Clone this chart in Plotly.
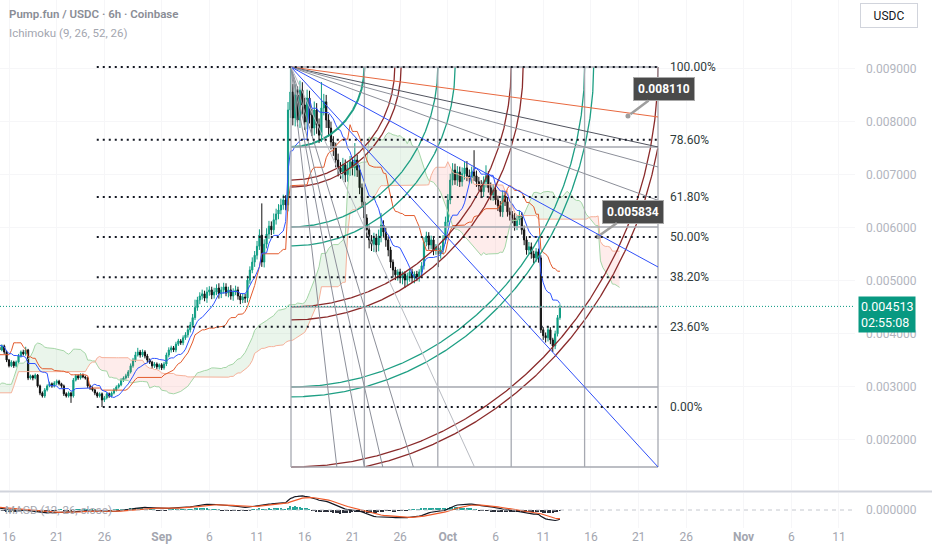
import numpy as np
import pandas as pd
import plotly.graph_objects as go

# prices in millionths of USDC (4513 -> 0.004513), 6h bars
# bars before the visible window, only used to warm up Ichimoku / MACD
PRE_CLOSE = [3350, 3300, 3380, 3320, 3250, 3300, 3220, 3180, 3200, 3120, 3060, 3100,
             3150, 3080, 3020, 2980, 3040, 2960, 2900, 2950, 2880, 2820, 2860, 2780,
             2720, 2760, 2680, 2620, 2660, 2580, 2520, 2560, 2480, 2430, 2500, 2440,
             2380, 2420, 2350, 2260, 2420, 2560, 2680, 2620, 2780, 2900, 2860, 3000,
             3120, 3060, 3200, 3300, 3260, 3420, 3380, 3500, 3200, 2980, 2900, 3050,
             3400, 3750, 4000, 4300, 4150, 4050, 3950, 4000, 3880, 3950, 3820, 3900,
             3780, 3850, 3720, 3800, 3880, 3760, 3820, 3740]
FIRST_OPEN = 3400

# visible bars, Aug 15 00:00 -> Oct 12 18:00
CLOSE = [3690, 3765, 3650, 3500, 3390, 3460, 3390, 3460, 3575, 3650,
         3615, 3690, 3160, 3200, 3160, 3215, 3010, 2875, 2820, 2935,
         3010, 3050, 3010, 3065, 3100, 3050, 3010, 2860, 2820, 2875,
         2820, 3120, 3200, 3160, 3215, 3180, 3160, 3010, 2970, 2935,
         2875, 2820, 2860, 2745, 2785, 2860, 2820, 2875, 2935, 2990,
         3030, 3120, 3160, 3200, 3275, 3390, 3500, 3595, 3650, 3595,
         3650, 3575, 3500, 3460, 3390, 3425, 3370, 3410, 3350, 3425,
         3595, 3690, 3730, 3690, 3800, 3860, 3825, 3920, 3975, 4070,
         4160, 4300, 4490, 4635, 4710, 4750, 4670, 4785, 4825, 4730,
         4785, 4860, 4750, 4825, 4880, 4765, 4825, 4710, 4785, 4825,
         4710, 4635, 4690, 4670, 5010, 5200, 5350, 5480, 5650, 5860,
         5350, 5690, 5880, 6030, 5960, 6150, 6260, 6335, 6430, 6525,
         6430, 8225, 8565, 8075, 8510, 8035, 8600, 8320, 8000, 8450,
         8130, 7885, 8225, 7945, 7750, 8263, 8380, 8036, 7885, 7620,
         7507, 7280, 7130, 7055, 7190, 7000, 7130, 7245, 7130, 7280,
         7090, 6755, 6490, 6185, 5960, 5770, 5690, 5805, 5675, 5845,
         6050, 5920, 5770, 5580, 5350, 5200, 5110, 5165, 5050, 5125,
         5010, 5090, 5165, 5050, 5125, 5070, 5165, 5280, 5730, 5845,
         5675, 5770, 5580, 5620, 5505, 5580, 5770, 6110, 6525, 6900,
         7090, 6900, 7055, 6870, 7020, 7130, 6980, 6945, 7055, 6980,
         6870, 6790, 6680, 6870, 6980, 6755, 6620, 6715, 6525, 6415,
         6300, 6605, 6490, 6300, 6245, 6185, 6035, 6150, 6225, 5960,
         5770, 5580, 5640, 5505, 5430, 5545, 5430, 4070, 3960, 3920,
         4070, 3880, 3765, 3995, 4300, 4513]
WICK_UP = [40, 30, 25, 30, 20, 35, 25, 30, 40, 30, 45, 60, 20, 25, 20, 30, 20, 25, 30, 35,
           30, 40, 25, 35, 30, 25, 20, 25, 30, 30, 25, 40, 30, 25, 35, 30, 25, 20, 25, 30,
           20, 25, 30, 25, 35, 30, 25, 30, 35, 30, 30, 35, 30, 40, 35, 45, 40, 60, 80, 40,
           50, 35, 40, 30, 25, 35, 30, 25, 30, 40, 45, 50, 40, 35, 45, 40, 35, 45, 50, 40,
           60, 70, 150, 60, 70, 80, 60, 90, 70, 60, 80, 70, 90, 60, 80, 70, 60, 90, 70, 80,
           60, 50, 70, 60, 80, 70, 90, 80, 100, 110, 600, 90, 110, 100, 90, 120, 100, 110, 120, 100,
           90, 150, 470, 150, 200, 160, 180, 150, 140, 160, 140, 120, 160, 130, 120, 490, 150, 130, 110, 120,
           110, 100, 120, 110, 130, 100, 120, 110, 90, 320, 100, 90, 80, 90, 70, 80, 90, 100, 80, 120,
           230, 90, 80, 70, 60, 50, 60, 50, 60, 50, 50, 60, 50, 60, 50, 60, 50, 70, 90, 80,
           70, 80, 60, 70, 60, 80, 90, 100, 110, 120, 130, 120, 110, 100, 120, 110, 130, 120, 100, 410,
           100, 90, 110, 100, 200, 90, 100, 110, 90, 80, 90, 100, 80, 90, 80, 70, 90, 80, 100, 70,
           80, 70, 90, 80, 60, 70, 60, 50, 50, 60, 60, 50, 40, 60, 50, 40]
WICK_DN = [30, 25, 35, 40, 30, 25, 40, 30, 25, 30, 30, 35, 40, 30, 45, 25, 30, 40, 30, 35,
           30, 25, 35, 30, 40, 30, 35, 40, 30, 30, 130, 30, 25, 35, 30, 25, 30, 40, 35, 30,
           40, 35, 30, 134, 40, 30, 35, 30, 25, 30, 30, 25, 35, 30, 40, 30, 35, 40, 30, 50,
           40, 45, 50, 35, 60, 40, 45, 50, 40, 35, 40, 45, 50, 40, 45, 35, 40, 45, 40, 50,
           50, 40, 45, 60, 80, 70, 60, 90, 70, 80, 70, 60, 90, 80, 70, 60, 80, 70, 90, 60,
           70, 80, 60, 90, 80, 70, 60, 90, 80, 70, 90, 100, 80, 90, 100, 80, 90, 100, 80, 90,
           100, 120, 150, 140, 160, 120, 150, 180, 150, 140, 160, 150, 140, 170, 150, 130, 140, 150, 160, 140,
           150, 140, 160, 130, 150, 140, 130, 150, 140, 160, 130, 120, 110, 140, 150, 160, 130, 150, 140, 120,
           120, 110, 130, 120, 110, 140, 100, 110, 100, 120, 150, 100, 110, 90, 100, 80, 90, 80, 70, 80,
           90, 80, 100, 90, 250, 90, 80, 70, 90, 80, 100, 90, 110, 100, 90, 110, 100, 90, 110, 100,
           100, 90, 120, 100, 110, 90, 100, 110, 90, 100, 90, 100, 80, 90, 110, 100, 90, 80, 100, 90,
           100, 90, 80, 90, 100, 80, 90, 60, 80, 90, 70, 80, 114, 60, 50, 40]

START_DAY = -6.0   # days since Aug 1 of the first warm-up bar
BAR_DAYS = 0.25

TICK_DAYS = [15, 20, 25, 31, 36, 41, 46, 51, 56, 61, 66, 71, 76, 81, 86, 92, 97, 102]
TICK_TEXT = ["16", "21", "26", "<b>Sep</b>", "6", "11", "16", "21", "26", "<b>Oct</b>",
             "6", "11", "16", "21", "26", "<b>Nov</b>", "6", "11"]
PRICE_TICKS = [0.002, 0.003, 0.004, 0.005, 0.006, 0.007, 0.008, 0.009]

FIB_HIGH, FIB_LOW = 0.009038, 0.002611
FIB_LEVELS = [1.0, 0.786, 0.618, 0.5, 0.382, 0.236, 0.0]
FIB_LABELS = ["100.00%", "78.60%", "61.80%", "50.00%", "38.20%", "23.60%", "0.00%"]
FIB_X = (24.2, 83.03)

BOX_X = (44.56, 83.03)
BOX_Y = (0.001478, 0.009038)

LAST_PRICE = 0.004513
CALLOUTS = [(79.88, 0.008110, "0.008110", 36, -27), (76.74, 0.005834, "0.005834", 35, -25)]

FONT = "Roboto"

# ---------------------------------------------------------------------------
close = np.array(PRE_CLOSE + CLOSE, dtype=float) * 1e-6
npre = len(PRE_CLOSE)
opn = np.concatenate([[FIRST_OPEN * 1e-6], close[:-1]])
high = np.maximum(opn, close)
low = np.minimum(opn, close)
high[npre:] += np.array(WICK_UP) * 1e-6
low[npre:] -= np.array(WICK_DN) * 1e-6
t = START_DAY + BAR_DAYS * np.arange(len(close))

hs, ls = pd.Series(high), pd.Series(low)


def donchian(p):
    return ((hs.rolling(p).max() + ls.rolling(p).min()) / 2).values


tenkan = donchian(9)
kijun = donchian(26)
span_a = (tenkan + kijun) / 2
span_b = donchian(52)
t_lead = t + 25 * BAR_DAYS
ok = ~np.isnan(span_b)
ta, sa, sb = t_lead[ok], span_a[ok], span_b[ok]
top = np.fmax(sa, sb)

cs = pd.Series(close)
macd = (cs.ewm(span=12, adjust=False).mean() - cs.ewm(span=26, adjust=False).mean()).values
signal = pd.Series(macd).ewm(span=9, adjust=False).mean().values
hist = macd - signal

vis = slice(npre, None)

fig = go.Figure()

# Ichimoku cloud
fig.add_trace(go.Scatter(x=ta, y=sb, line=dict(width=0), hoverinfo="skip"))
fig.add_trace(go.Scatter(x=ta, y=top, fill="tonexty", fillcolor="rgba(67,160,71,0.11)",
                         line=dict(width=0), hoverinfo="skip"))
fig.add_trace(go.Scatter(x=ta, y=sa, line=dict(width=0), hoverinfo="skip"))
fig.add_trace(go.Scatter(x=ta, y=top, fill="tonexty", fillcolor="rgba(244,67,54,0.10)",
                         line=dict(width=0), hoverinfo="skip"))
fig.add_trace(go.Scatter(x=ta, y=sa, line=dict(color="#a5d6a7", width=1)))
fig.add_trace(go.Scatter(x=ta, y=sb, line=dict(color="#f6b19a", width=1)))
fig.add_trace(go.Scatter(x=t, y=kijun, line=dict(color="#e35b2d", width=1)))
fig.add_trace(go.Scatter(x=t, y=tenkan, line=dict(color="#2f54ff", width=1)))

fig.add_trace(go.Candlestick(
    x=t[vis], open=opn[vis], high=high[vis], low=low[vis], close=close[vis],
    increasing=dict(line=dict(color="#0f9d83", width=1), fillcolor="#0f9d83"),
    decreasing=dict(line=dict(color="#111111", width=1), fillcolor="#111111"),
    whiskerwidth=0))

# Gann square: arcs
x0, x1 = BOX_X
bot, tp = BOX_Y
bw, bh = (x1 - x0) / 5, (tp - bot) / 5
GREEN, DRED = "#1e9f84", "#8a2b2b"
arcs = [(1, GREEN), (2 ** 0.5, DRED), (1.5, DRED), (2, GREEN), (5 ** 0.5, GREEN),
        (3, DRED), (10 ** 0.5, DRED), (4, GREEN), (17 ** 0.5, GREEN), (5, DRED), (26 ** 0.5, DRED)]
th = np.linspace(0, np.pi / 2, 400)
for r, col in arcs:
    ax_ = x0 + r * bw * np.cos(th)
    ay_ = tp - r * bh * np.sin(th)
    inside = (ax_ <= x1 + 1e-9) & (ay_ >= bot - 1e-12)
    fig.add_trace(go.Scatter(x=np.where(inside, ax_, np.nan), y=np.where(inside, ay_, np.nan),
                             line=dict(color=col, width=2 if r == 1 else 1.3), hoverinfo="skip"))

shapes = []
# Gann grid
for k in range(6):
    shapes.append(dict(type="line", x0=x0 + k * bw, x1=x0 + k * bw, y0=bot, y1=tp,
                       line=dict(color="#a6a9b1", width=1.3), layer="above"))
    shapes.append(dict(type="line", x0=x0, x1=x1, y0=tp - k * bh, y1=tp - k * bh,
                       line=dict(color="#a6a9b1", width=1.3), layer="above"))
# Gann fan
for frac, col in [(1 / 8, "#e8683f"), (1 / 5, "#50535e"), (1 / 4, "#8c8f99"),
                  (1 / 3, "#8c8f99"), (1 / 2, "#3050f8"), (1, "#3050f8")]:
    shapes.append(dict(type="line", x0=x0, y0=tp, x1=x1, y1=tp - frac * (tp - bot),
                       line=dict(color=col, width=1), layer="above"))
for frac, col in [(1 / 8, "#8c8f99"), (1 / 5, "#8c8f99"), (1 / 4, "#8c8f99"),
                  (1 / 3, "#8c8f99"), (1 / 2, "#b8bbc2")]:
    shapes.append(dict(type="line", x0=x0, y0=tp, x1=x0 + frac * (x1 - x0), y1=bot,
                       line=dict(color=col, width=1), layer="above"))
# Fibonacci retracement
for lv in FIB_LEVELS:
    yv = FIB_LOW + lv * (FIB_HIGH - FIB_LOW)
    shapes.append(dict(type="line", x0=FIB_X[0], x1=FIB_X[1], y0=yv, y1=yv,
                       line=dict(color="#131722", width=2, dash="2px,4px"), layer="above"))
# last price line
shapes.append(dict(type="line", xref="paper", x0=0, x1=1, y0=LAST_PRICE, y1=LAST_PRICE,
                   line=dict(color="#089981", width=1, dash="1px,2px"), layer="above"))
# pane separator and MACD zero line
shapes.append(dict(type="line", xref="paper", yref="paper", x0=0, x1=932 / 855,
                   y0=36.5 / 528, y1=36.5 / 528, line=dict(color="#d1d4dc", width=2)))
shapes.append(dict(type="line", xref="paper", yref="y2", x0=0, x1=1, y0=0, y1=0,
                   line=dict(color="#c4c7ce", width=1, dash="4px,4px")))

# MACD pane
hcol = ["#26a69a" if v >= 0 else "#2a2e39" for v in hist[vis]]
fig.add_trace(go.Bar(x=t[vis], y=hist[vis], marker=dict(color=hcol, line=dict(width=0)),
                     width=BAR_DAYS * 0.6, xaxis="x2", yaxis="y2"))
fig.add_trace(go.Scatter(x=t[vis], y=macd[vis], line=dict(color="#131722", width=1.2),
                         xaxis="x2", yaxis="y2"))
fig.add_trace(go.Scatter(x=t[vis], y=signal[vis], line=dict(color="#ef5a2a", width=1.2),
                         xaxis="x2", yaxis="y2"))
R = 1.2 * np.nanmax(np.abs(macd[vis]))

# callout dots
fig.add_trace(go.Scatter(x=[c[0] for c in CALLOUTS], y=[c[1] for c in CALLOUTS], mode="markers",
                         marker=dict(color="#9e9e9e", size=5)))

W, H, PLOT_H = 855, 550, 528
ann = [
    dict(text="Pump.fun / USDC · 6h · Coinbase", x=7 / W, y=1 - 14 / PLOT_H, xref="paper", yref="paper",
         xanchor="left", yanchor="middle", showarrow=False,
         font=dict(size=11.5, color="#8a8d96", family=FONT, weight=600)),
    dict(text="Ichimoku (9, 26, 52, 26)", x=7 / W, y=1 - 33 / PLOT_H, xref="paper", yref="paper",
         xanchor="left", yanchor="middle", showarrow=False,
         font=dict(size=11.5, color="#a3a6af", family=FONT)),
    dict(text="USDC", x=889 / W, y=1 - 16 / PLOT_H, xref="paper", yref="paper", showarrow=False,
         xanchor="center", yanchor="middle",
         width=50, height=17, bordercolor="#d1d4dc", borderwidth=1, borderpad=3, bgcolor="white",
         font=dict(size=12, color="#131722", family=FONT)),
    dict(text="MACD (12, 26, close)", x=3 / W, y=0, xref="paper", yref="y2", xanchor="left",
         yanchor="middle", showarrow=False, font=dict(size=11.5, color="#a3a6af", family=FONT)),
    dict(text="0.004513<br>02:55:08", x=858 / W, y=LAST_PRICE, xref="paper", yref="y",
         xanchor="left", yanchor="top", yshift=10, showarrow=False, align="left",
         bgcolor="#089981", borderpad=2, font=dict(size=12.5, color="white", family=FONT)),
]
for lv, lab in zip(FIB_LEVELS, FIB_LABELS):
    ann.append(dict(text=lab, x=668 / W, y=FIB_LOW + lv * (FIB_HIGH - FIB_LOW), xref="paper", yref="y",
                    xanchor="left", yanchor="middle", showarrow=False,
                    font=dict(size=12, color="#2f3b3b", family=FONT)))
for cx, cy, txt, dx, dy in CALLOUTS:
    ann.append(dict(text="<b>" + txt + "</b>", x=cx, y=cy, xref="x", yref="y", ax=dx, ay=dy,
                    showarrow=True, arrowhead=0, arrowwidth=2.5, arrowcolor="#9e9e9e", standoff=3,
                    bgcolor="#4a4a4a", bordercolor="#a8a8a8", borderwidth=1, borderpad=4,
                    font=dict(size=12, color="white", family=FONT)))

X_RANGE = [14.057, 103.68]
fig.update_layout(
    width=932, height=550, margin=dict(l=0, r=77, t=0, b=22),
    plot_bgcolor="white", paper_bgcolor="white", showlegend=False,
    font=dict(family=FONT, color="#9598a1"),
    shapes=shapes, annotations=ann, bargap=0,
    xaxis=dict(domain=[0, 1], range=X_RANGE, anchor="y", showticklabels=False, tickvals=TICK_DAYS,
               showgrid=True, gridcolor="#f6f6f8", zeroline=False, rangeslider=dict(visible=False)),
    xaxis2=dict(domain=[0, 1], range=X_RANGE, anchor="y2", matches="x", tickvals=TICK_DAYS,
                ticktext=TICK_TEXT, showgrid=True, gridcolor="#f6f6f8", zeroline=False,
                tickfont=dict(size=12, color="#a3a6af"), ticks=""),
    yaxis=dict(domain=[38 / PLOT_H, 1], range=[0.001043, 0.010304], side="right", anchor="x",
               tickvals=PRICE_TICKS, tickformat=".6f", showgrid=True, gridcolor="#f6f6f8",
               zeroline=False, ticks="", ticklabelstandoff=10, tickfont=dict(size=12, color="#b2b5be")),
    yaxis2=dict(domain=[0, 35 / PLOT_H], range=[-R * 18 / 17, R], side="right", anchor="x2",
                tickvals=[0], ticktext=["0.000000"], showgrid=False, zeroline=False, ticks="",
                ticklabelstandoff=10, tickfont=dict(size=12, color="#b2b5be")),
)

# the page's default 8px body margin would shift the chart off the 932x550 window
fig.write_html("out.html", config={"displayModeBar": False},
               post_script="document.body.style.margin='0';")
